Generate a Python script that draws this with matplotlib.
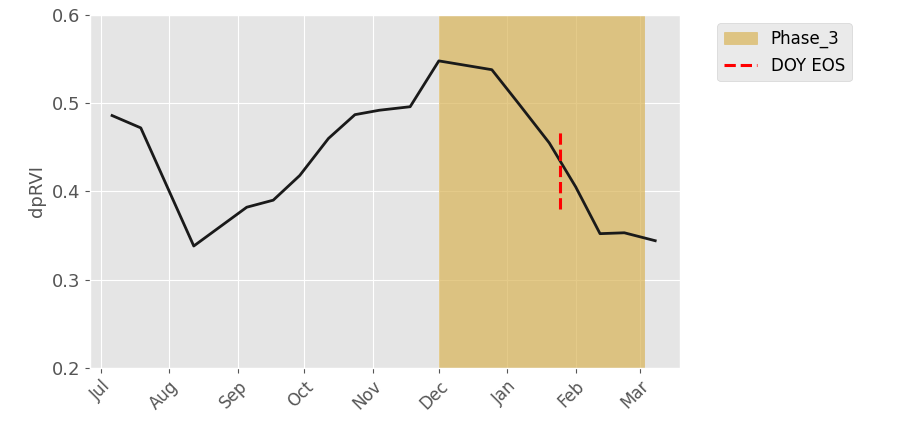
import matplotlib
matplotlib.use('Agg')
import matplotlib.pyplot as plt
import matplotlib.dates as mdates
import pandas as pd

plt.style.use('ggplot')

dates = pd.to_datetime(['2019-07-06', '2019-07-19', '2019-08-12', '2019-09-05', '2019-09-17',
                        '2019-09-29', '2019-10-12', '2019-10-24', '2019-11-04', '2019-11-18',
                        '2019-12-01', '2019-12-25', '2020-01-06', '2020-01-20', '2020-02-01',
                        '2020-02-12', '2020-02-23', '2020-03-08'])
dprvi = [0.486, 0.472, 0.338, 0.382, 0.390, 0.418, 0.460, 0.487, 0.492, 0.496,
         0.548, 0.538, 0.500, 0.455, 0.405, 0.352, 0.353, 0.344]
yticks = [0.2, 0.3, 0.4, 0.5, 0.6]

phase_start = pd.Timestamp('2019-12-01')
phase_end = pd.Timestamp('2020-03-03')
eos_date = pd.Timestamp('2020-01-25')
eos_range = (0.38, 0.47)

fig, ax = plt.subplots(figsize=(9, 4.3), dpi=100)
ax.axvspan(phase_start, phase_end, color='#d9b457', alpha=0.7, label='Phase_3')
ax.plot(dates, dprvi, color='#1a1a1a', lw=2)
ax.vlines(eos_date, *eos_range, colors='red', linestyles='--', lw=2.2, label='DOY EOS')

ax.set_ylim(0.2, 0.6)
ax.set_yticks(yticks)
ax.set_xlim(pd.Timestamp('2019-06-26'), pd.Timestamp('2020-03-19'))
ax.xaxis.set_major_locator(mdates.MonthLocator())
ax.xaxis.set_major_formatter(mdates.DateFormatter('%b'))
plt.setp(ax.get_xticklabels(), rotation=45, ha='right', rotation_mode='anchor', fontsize=12)
plt.setp(ax.get_yticklabels(), fontsize=13)
ax.set_ylabel('dpRVI', fontsize=13)
ax.legend(loc='upper left', bbox_to_anchor=(1.05, 1.0), fontsize=12)

fig.subplots_adjust(left=0.1, right=0.755, top=0.965, bottom=0.145)
fig.savefig('out.png')
